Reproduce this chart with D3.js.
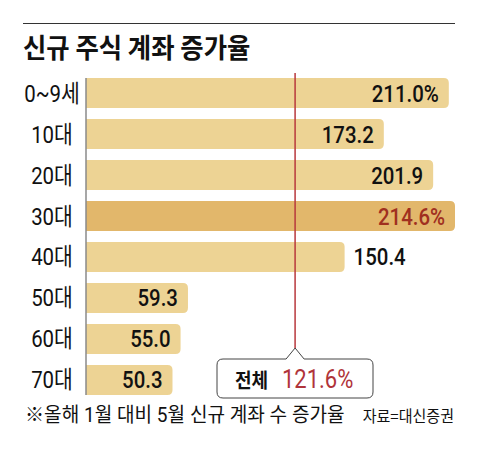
<!DOCTYPE html>
<html><head><meta charset="utf-8">
<script src="https://cdn.jsdelivr.net/npm/d3@7"></script>
<style>
html,body{margin:0;padding:0;background:#fff;}
svg{display:block;}
</style></head>
<body>
<svg id="c" width="480" height="456"></svg>
<script>
const categories = ["0~9세","10대","20대","30대","40대","50대","60대","70대"];
const values = [211.0, 173.2, 201.9, 214.6, 150.4, 59.3, 55.0, 50.3];
const valueLabels = ["211.0%","173.2","201.9","214.6%","150.4","59.3","55.0","50.3"];
const highlight = ["30대"];
const totalValue = 121.6;
const totalLabel = ["전체","121.6%"];
const title = "신규 주식 계좌 증가율";
const note = "※올해 1월 대비 5월 신규 계좌 수 증가율";
const source = "자료=대신증권";

const NUM = "Roboto,'Noto Sans CJK KR',sans-serif";
const KR = "'Noto Sans CJK KR',sans-serif";
const svg = d3.select("#c");

const x = d3.scaleLinear().domain([0, 214.6]).range([86, 455]);
const y = d3.scaleBand().domain(categories).range([78, 395]).paddingInner(0.268).paddingOuter(0).align(0);

function txt(sel, px, py, s, o){
  return sel.append("text")
    .attr("transform",`translate(${px},${py}) scale(${o.sx||1},1)`)
    .attr("text-anchor",o.anchor||"start")
    .style("font-family",o.font).style("font-size",o.size+"px").style("font-weight",o.weight||"normal")
    .attr("fill",o.fill||"#111").text(s);
}

// top rule
svg.append("line").attr("x1",23).attr("x2",455).attr("y1",23.5).attr("y2",23.5)
  .attr("stroke","#333").attr("stroke-width",1);
txt(svg,23,58,title,{font:KR,size:27,weight:"bold",sx:0.94});

// bars with rounded right end
const r = 5;
function barPath(d,i){
  const x0 = x(0), x1 = x(values[i]), y0 = y(d), h = y.bandwidth();
  return `M${x0},${y0}H${x1-r}Q${x1},${y0} ${x1},${y0+r}V${y0+h-r}Q${x1},${y0+h} ${x1-r},${y0+h}H${x0}Z`;
}
svg.append("g").selectAll("path").data(categories).join("path")
  .attr("d",barPath)
  .attr("fill",d=>highlight.includes(d)?"#E2B76B":"#EDD394");

// axis line
svg.append("line").attr("x1",x(0)).attr("x2",x(0)).attr("y1",y(categories[0])).attr("y2",y(categories[categories.length-1])+y.bandwidth())
  .attr("stroke","#8a8a8a").attr("stroke-width",1.5);

// total line
const xt = x(totalValue);
svg.append("line").attr("x1",xt).attr("x2",xt).attr("y1",73).attr("y2",348)
  .attr("stroke","#B8383D").attr("stroke-width",1.5);

// category labels
const cg = svg.append("g");
categories.forEach(d=>{
  txt(cg,52,y(d)+y.bandwidth()/2+8.5,d,{font:NUM,size:24,sx:0.85,anchor:"middle"});
});

// value labels
const vg = svg.append("g");
categories.forEach((d,i)=>{
  const sx = 0.85;
  const t = txt(vg,0,y(d)+y.bandwidth()/2+8.5,valueLabels[i],
    {font:NUM,size:24,weight:500,sx:sx,fill:highlight.includes(d)?"#A0301F":"#111"});
  const w = t.node().getComputedTextLength()*sx;
  const xe = x(values[i]);
  const inside = !(xe - 10 - w < xt + 4 && xe > xt);
  const yy = y(d)+y.bandwidth()/2+8.5;
  if(inside) t.attr("transform",`translate(${xe-10},${yy}) scale(${sx},1)`).attr("text-anchor","end");
  else t.attr("transform",`translate(${xe+9},${yy}) scale(${sx},1)`).attr("text-anchor","start");
});

// callout
const bx0=217,bx1=373,by0=359,by1=398,br=6,tw=9,th=11;
svg.append("path")
  .attr("d",`M${bx0+br},${by0}H${xt-tw}L${xt},${by0-th}L${xt+tw},${by0}H${bx1-br}Q${bx1},${by0} ${bx1},${by0+br}V${by1-br}Q${bx1},${by1} ${bx1-br},${by1}H${bx0+br}Q${bx0},${by1} ${bx0},${by1-br}V${by0+br}Q${bx0},${by0} ${bx0+br},${by0}Z`)
  .attr("fill","#fff").attr("stroke","#444").attr("stroke-width",1);
txt(svg,235,388,totalLabel[0],{font:KR,size:20,weight:"bold",sx:0.9});
txt(svg,282,388,totalLabel[1],{font:NUM,size:25,sx:0.88,fill:"#B0343A"});

// footnote
txt(svg,25,422,note,{font:NUM,size:20,sx:0.955});
txt(svg,454,422,source,{font:KR,size:16,sx:0.94,anchor:"end"});
</script>
</body></html>
